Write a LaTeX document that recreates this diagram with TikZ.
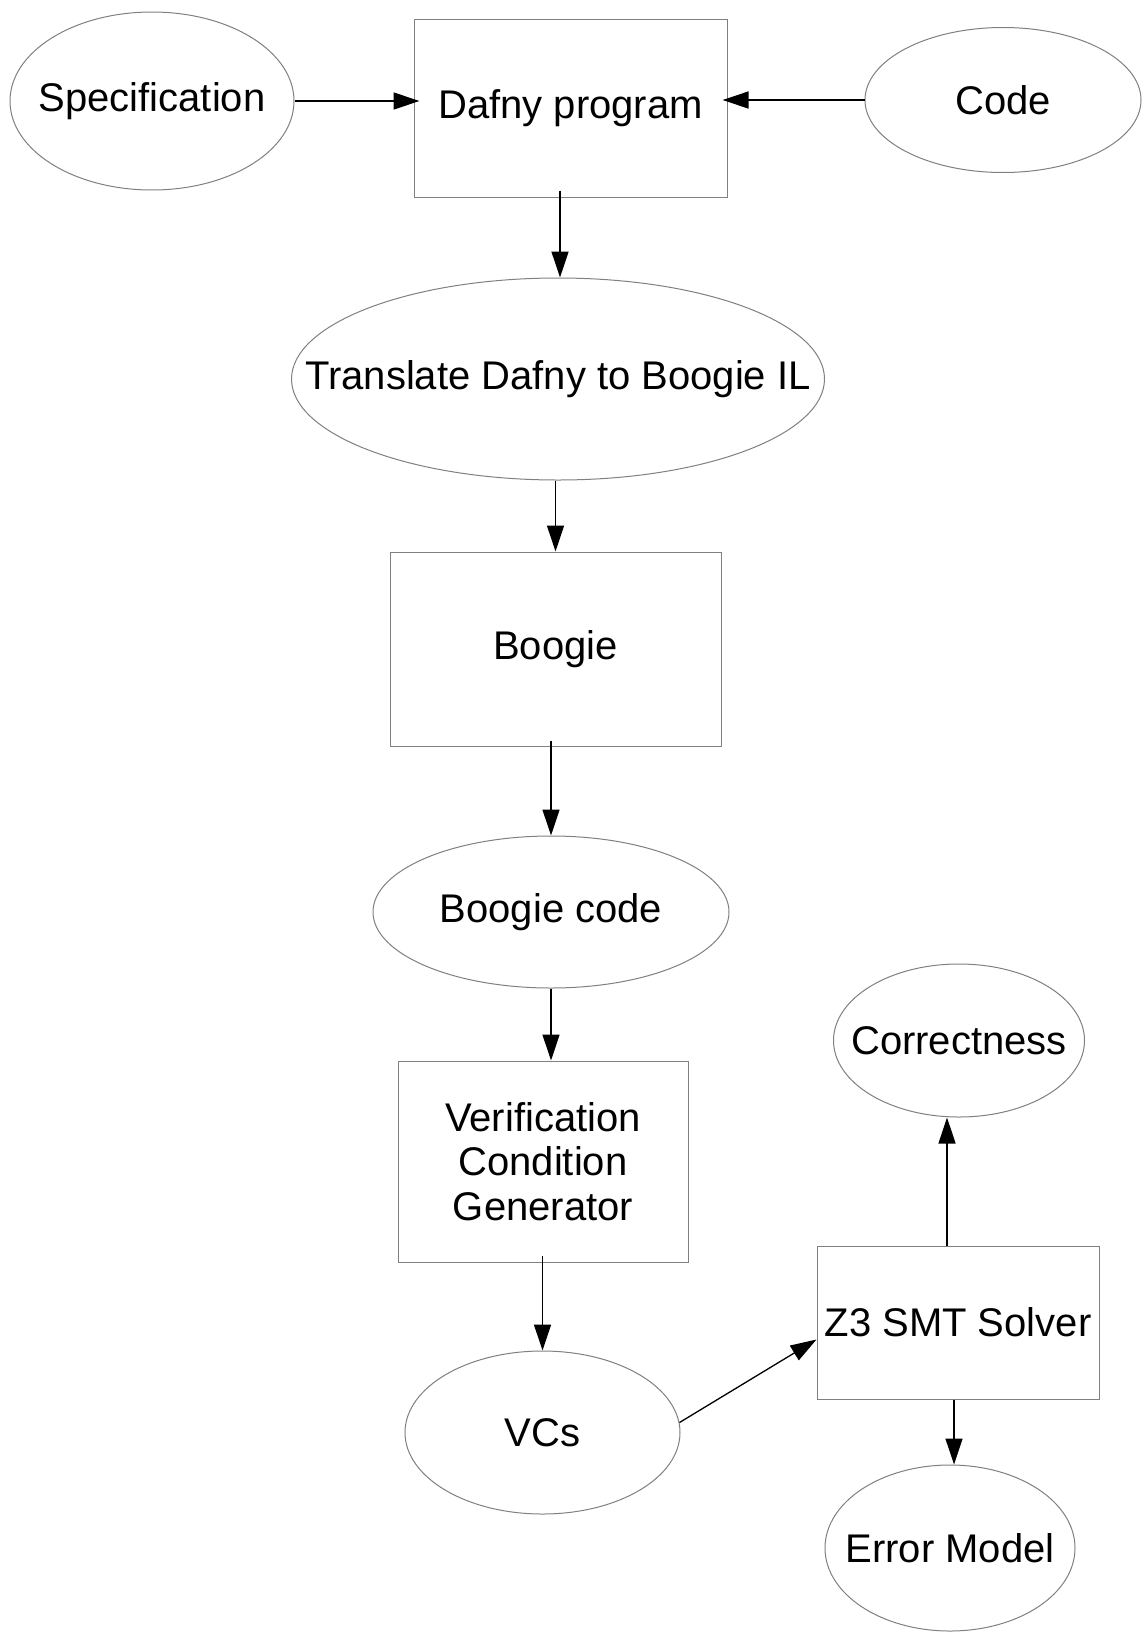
\documentclass[tikz,border=0pt]{standalone}
\usepackage{fontspec}
\setmainfont{Liberation Sans}
\usetikzlibrary{shapes.geometric,arrows.meta,calc}
\begin{document}
\begin{tikzpicture}[x=1pt,y=-1pt,
  every node/.style={font=\fontsize{40}{44.5}\selectfont, text=black},
  oval/.style={ellipse, draw=black!50, line width=1pt, inner sep=0pt},
  box/.style={rectangle, draw=black!50, line width=1pt, inner sep=0pt, align=center},
  arr/.style={-{Triangle[length=26pt,width=17pt]}, line width=1.3pt, draw=black}]
\useasboundingbox (0,0) rectangle (1144,1633);
\fill[white] (0,0) rectangle (1144,1633);

\node[oval, minimum width=284pt, minimum height=178pt] (spec) at (152,101) {\makebox[0pt]{\raisebox{-3pt}{Specification}}};
\node[box, minimum width=313pt, minimum height=178pt] (dafny) at (570.5,108) {\raisebox{-3pt}{Dafny program}};
\node[oval, minimum width=276pt, minimum height=145pt] (code) at (1003,100) {\makebox[0pt]{\raisebox{-2pt}{Code}}};
\node[oval, minimum width=533pt, minimum height=202pt] (trans) at (558,379) {\makebox[0pt]{Translate Dafny to Boogie IL}};
\node[box, minimum width=331pt, minimum height=194pt] (boogie) at (555.5,649) {\raisebox{-3pt}{Boogie}};
\node[oval, minimum width=356pt, minimum height=152pt] (bcode) at (551,912) {\makebox[0pt]{\raisebox{-2pt}{Boogie code}}};
\node[box, minimum width=290pt, minimum height=201pt] (vcg) at (543,1161.5) {Verification\\Condition\\Generator};
\node[oval, minimum width=275pt, minimum height=163pt] (vcs) at (542.5,1432.5) {\makebox[0pt]{VCs}};
\node[box, minimum width=282pt, minimum height=153pt] (z3) at (958,1322.5) {Z3 SMT Solver};
\node[oval, minimum width=251pt, minimum height=153pt] (corr) at (959,1040.5) {\makebox[0pt]{Correctness}};
\node[oval, minimum width=250pt, minimum height=166pt] (err) at (950,1548) {\makebox[0pt]{Error Model}};

\draw[arr] (spec.east) -- ($(spec.east -| dafny.west)+(6,0)$);
\draw[arr] (code.west) -- ($(code.west -| dafny.east)+(-5,0)$);
\draw[arr] ($(dafny.south -| trans)+(2,-7)$) -- ($(trans.north)+(2,0)$);
\draw[arr] (trans.south -| boogie) -- (boogie.north);
\draw[arr] ($(boogie.south -| bcode)+(0,-6)$) -- (bcode.north);
\draw[arr] (bcode.south) -- (bcode.south |- vcg.north);
\draw[arr] ($(vcg.south -| vcs)+(0,-7)$) -- (vcs.north);
\draw[arr] ($(vcs.east)+(-1,-10)$) -- ($(z3.west)+(0,17)$);
\coordinate (zc) at ($(z3.north)+(-11,0)$);
\draw[arr] (zc) -- (zc |- corr.south);
\coordinate (ze) at ($(z3.south)+(-4,0)$);
\draw[arr] (ze) -- (ze |- err.north);
\end{tikzpicture}
\end{document}
